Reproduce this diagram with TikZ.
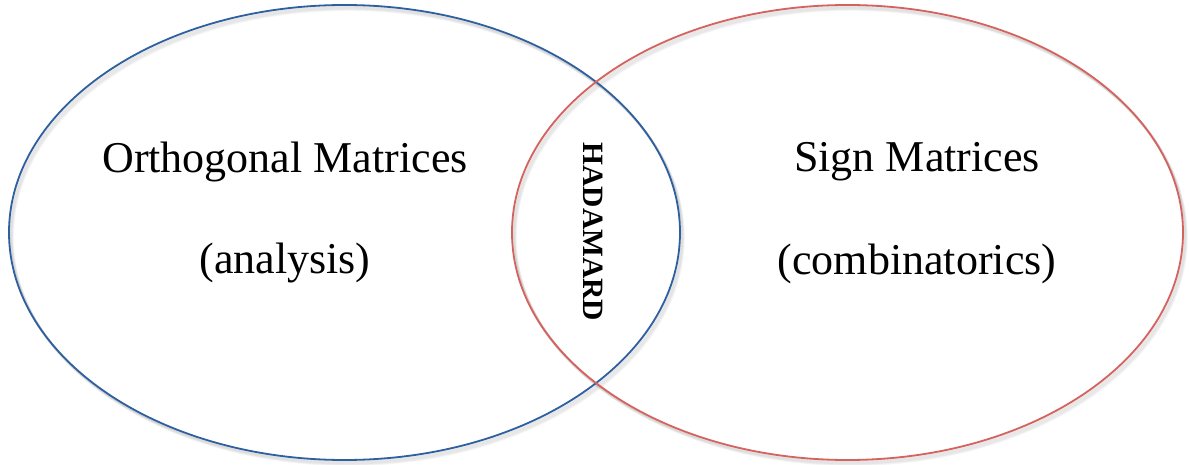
\documentclass[tikz,border=0pt]{standalone}
\usepackage{fontspec}
\setmainfont{Liberation Serif}
\usetikzlibrary{shapes.geometric,positioning}
\definecolor{setblue}{RGB}{46,96,160}
\definecolor{setred}{RGB}{214,98,94}

\tikzset{
    setellipse/.style = {ellipse, minimum width = 671pt, minimum height = 455pt, inner sep = 0pt, line width = 1.8pt},
    shadowellipse/.style = {ellipse, minimum width = 671pt, minimum height = 455pt, inner sep = 0pt, line width = 2.4pt, draw = black, draw opacity = .035},
    settext/.style = {font = \fontsize{44}{52}\selectfont, inner sep = 0pt}
}

\begin{document}
\begin{tikzpicture}[x = 1pt, y = -1pt]
    \useasboundingbox (0,0) rectangle (1189,465);
    % soft drop shadow
    \foreach \d in {1,2,...,6} {
        \node[shadowellipse] at (344.5+\d*.6,232.5+\d*.8) {};
        \node[shadowellipse] at (847.5+\d*.6,232.5+\d*.8) {};
    }
    \node[setellipse, draw = setblue] (ortho) at (344.5,232.5) {};
    \node[setellipse, draw = setred] (sign) at (847.5,232.5) {};
    \node[settext] (orthoname) at (285,162) {Orthogonal Matrices};
    \node[settext] (orthofield) at (285,263) {(analysis)};
    \node[settext] (signname) at (917,162) {Sign Matrices};
    \node[settext] (signfield) at (917,264) {(combinatorics)};
    \node[font = \fontsize{29.5}{34}\selectfont\bfseries, rotate = -90, inner sep = 0pt] (hadamard) at (593,232) {HADAMARD};
\end{tikzpicture}
\end{document}
